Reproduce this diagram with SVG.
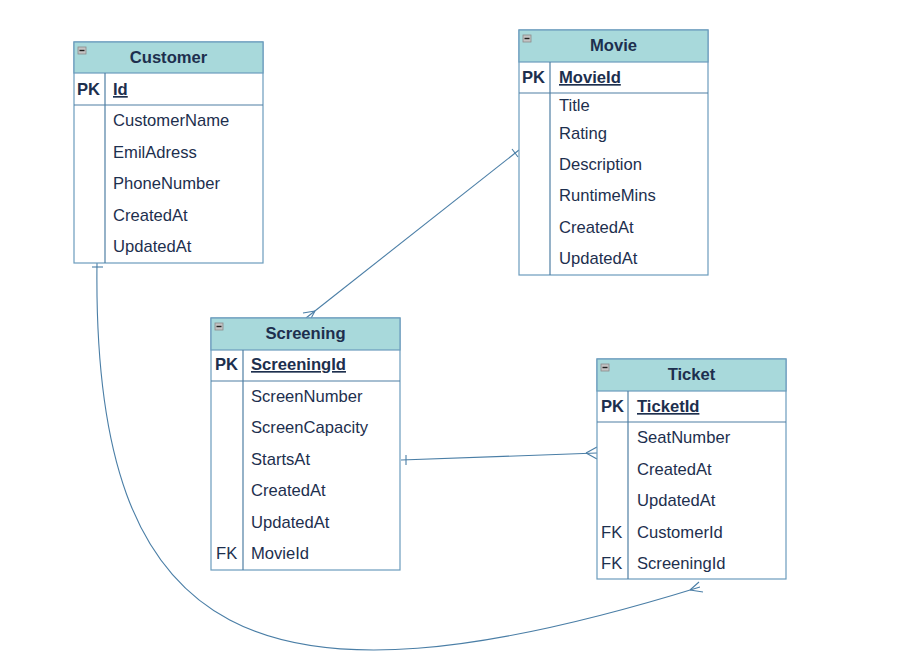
<svg xmlns="http://www.w3.org/2000/svg" width="924" height="672" viewBox="0 0 924 672">
<style>
.box{fill:#ffffff;stroke:#6b9cbd;stroke-width:1.2}
.hdr{fill:#a8d9db;stroke:#6b9cbd;stroke-width:1.2}
.sep{stroke:#4f7fa3;stroke-width:1.2;fill:none}
.t{font-family:"Liberation Sans",Arial,sans-serif;font-size:16.6px;fill:#1d2f4e}
.b{font-weight:bold}
.h{font-weight:bold;text-anchor:middle}
.u{font-weight:bold;text-decoration:underline}
.icon{fill:#c4c4c4;stroke:#8a8a8a;stroke-width:0.8}
.minus{stroke:#222;stroke-width:1.4}
.edge{fill:none;stroke:#4a7ea6;stroke-width:1.1}
</style>
<rect width="924" height="672" fill="#ffffff"/>
<g id="connectors">
  <path class="edge" d="M519,150 L306,318"/>
  <path class="edge" d="M512,149 L518,157"/>
  <path class="edge" d="M315,311 L303,313 M315,311 L309,322"/>
  <path class="edge" d="M401,460 L597,453"/>
  <path class="edge" d="M406,455 L406,465"/>
  <path class="edge" d="M586,453 L597,447 M586,453 L597,459"/>
  <path class="edge" d="M97,263 C92,645 255,725 700,587"/>
  <path class="edge" d="M92,267 L103,267"/>
  <path class="edge" d="M690,590 L699,582 M690,590 L703,592"/>
</g>
<g id="customer">
  <rect class="box" x="74" y="42" width="189" height="221"/>
  <rect class="hdr" x="74" y="42" width="189" height="31"/>
  <rect class="icon" x="78" y="47" width="8" height="7"/>
  <line class="minus" x1="79.5" y1="50.5" x2="84.5" y2="50.5"/>
  <line class="sep" x1="74" y1="105" x2="263" y2="105"/>
  <line class="sep" x1="105" y1="73" x2="105" y2="263"/>
  <text class="t h" x="168.5" y="63">Customer</text>
  <text class="t b" x="77" y="95">PK</text>
  <text class="t u" x="113" y="95">Id</text>
  <text class="t" x="113" y="126">CustomerName</text>
  <text class="t" x="113" y="158">EmilAdress</text>
  <text class="t" x="113" y="189">PhoneNumber</text>
  <text class="t" x="113" y="221">CreatedAt</text>
  <text class="t" x="113" y="252">UpdatedAt</text>
</g>
<g id="movie">
  <rect class="box" x="519" y="30" width="189" height="245"/>
  <rect class="hdr" x="519" y="30" width="189" height="32"/>
  <rect class="icon" x="523" y="35" width="8" height="7"/>
  <line class="minus" x1="524.5" y1="38.5" x2="529.5" y2="38.5"/>
  <line class="sep" x1="519" y1="93" x2="708" y2="93"/>
  <line class="sep" x1="550" y1="62" x2="550" y2="275"/>
  <text class="t h" x="613.5" y="51">Movie</text>
  <text class="t b" x="522" y="83">PK</text>
  <text class="t u" x="559" y="83">MovieId</text>
  <text class="t" x="559" y="111">Title</text>
  <text class="t" x="559" y="139">Rating</text>
  <text class="t" x="559" y="170">Description</text>
  <text class="t" x="559" y="201">RuntimeMins</text>
  <text class="t" x="559" y="233">CreatedAt</text>
  <text class="t" x="559" y="264">UpdatedAt</text>
</g>
<g id="screening">
  <rect class="box" x="211" y="318" width="189" height="252"/>
  <rect class="hdr" x="211" y="318" width="189" height="32"/>
  <rect class="icon" x="215" y="323" width="8" height="7"/>
  <line class="minus" x1="216.5" y1="326.5" x2="221.5" y2="326.5"/>
  <line class="sep" x1="211" y1="381" x2="400" y2="381"/>
  <line class="sep" x1="243" y1="350" x2="243" y2="570"/>
  <text class="t h" x="305.5" y="339">Screening</text>
  <text class="t b" x="215" y="370">PK</text>
  <text class="t u" x="251" y="370">ScreeningId</text>
  <text class="t" x="251" y="402">ScreenNumber</text>
  <text class="t" x="251" y="433">ScreenCapacity</text>
  <text class="t" x="251" y="465">StartsAt</text>
  <text class="t" x="251" y="496">CreatedAt</text>
  <text class="t" x="251" y="528">UpdatedAt</text>
  <text class="t" x="216" y="559">FK</text>
  <text class="t" x="251" y="559">MovieId</text>
</g>
<g id="ticket">
  <rect class="box" x="597" y="359" width="189" height="220"/>
  <rect class="hdr" x="597" y="359" width="189" height="32"/>
  <rect class="icon" x="601" y="364" width="8" height="7"/>
  <line class="minus" x1="602.5" y1="367.5" x2="607.5" y2="367.5"/>
  <line class="sep" x1="597" y1="422" x2="786" y2="422"/>
  <line class="sep" x1="628" y1="391" x2="628" y2="579"/>
  <text class="t h" x="691.5" y="380">Ticket</text>
  <text class="t b" x="601" y="412">PK</text>
  <text class="t u" x="637" y="412">TicketId</text>
  <text class="t" x="637" y="443">SeatNumber</text>
  <text class="t" x="637" y="475">CreatedAt</text>
  <text class="t" x="637" y="506">UpdatedAt</text>
  <text class="t" x="601" y="538">FK</text>
  <text class="t" x="637" y="538">CustomerId</text>
  <text class="t" x="601" y="569">FK</text>
  <text class="t" x="637" y="569">ScreeningId</text>
</g>
</svg>
